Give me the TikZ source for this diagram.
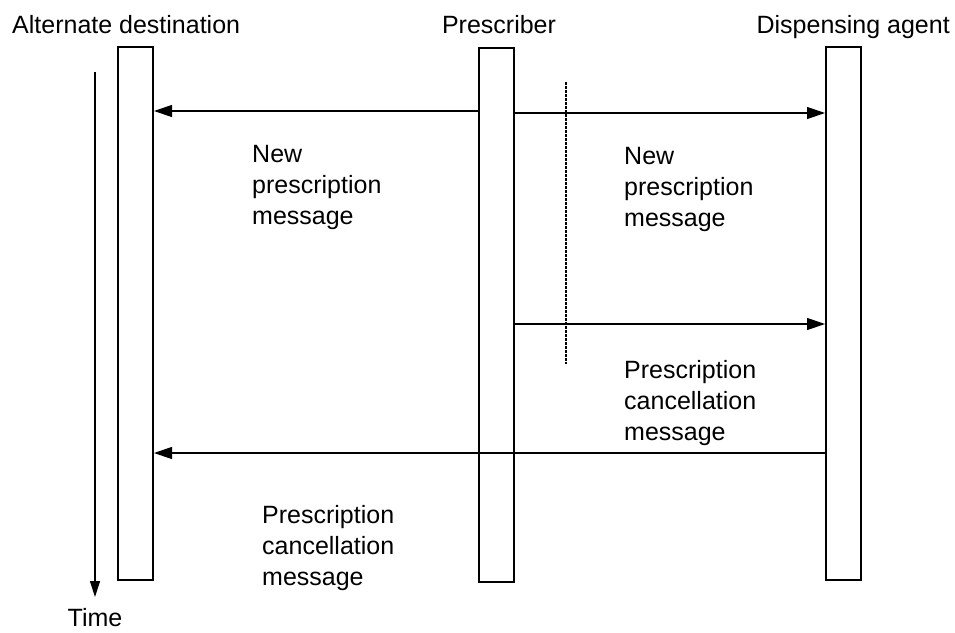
\documentclass[tikz,border=0pt]{standalone}
\usepackage{fontspec}
\setmainfont{Liberation Sans}
\usetikzlibrary{arrows.meta}
\begin{document}
\begin{tikzpicture}[x=1pt,y=-1pt,
  lifeline/.style={draw,line width=2pt,fill=white,minimum width=35pt,inner sep=0pt},
  msg/.style={line width=1.2pt,-{Triangle[length=18pt,width=12pt]}},
  label/.style={font=\fontsize{25}{31}\selectfont,inner sep=0pt},
  msgtext/.style={label,align=left,anchor=north west}]
\useasboundingbox (0,0) rectangle (955,632);

% lifelines
\node[lifeline,minimum height=533pt] (alt) at (135.5,313.5) {};
\node[lifeline,minimum height=534pt] (pres) at (496,315) {};
\node[lifeline,minimum height=533pt] (disp) at (843.5,313.5) {};

% headers
\node[label,anchor=base west] (althead) at (12,33) {Alternate destination};
\node[label,anchor=base] (preshead) at (499,33) {Prescriber};
\node[label,anchor=base east] (disphead) at (950,33) {Dispensing agent};

% time axis
\coordinate (tstart) at (95,72);
\coordinate (tend) at (95,597);
\draw[line width=1.2pt,-{Triangle[length=16pt,width=10pt]}] (tstart) -- (tend);
\node[label,anchor=base] (time) at (95,626) {Time};

% dotted marker
\coordinate (dtop) at (566,82);
\coordinate (dbot) at (566,364);
\draw[line width=2.6pt,dash pattern=on 2.5pt off 1.5pt] (dtop) -- (dbot);

% messages
\draw[msg] (pres.west |- 0,111) -- (alt.east |- 0,111);
\draw[msg] (pres.east |- 0,113) -- (disp.west |- 0,113);
\draw[msg] (pres.east |- 0,324) -- (disp.west |- 0,324);
\draw[msg] (disp.west |- 0,453) -- (alt.east |- 0,453);

% message texts
\node[msgtext] (m1) at (252,145) {New\\prescription\\message};
\node[msgtext] (m2) at (624,147) {New\\prescription\\message};
\node[msgtext] (m3) at (624,360) {Prescription\\cancellation\\message};
\node[msgtext] (m4) at (262,505) {Prescription\\cancellation\\message};
\end{tikzpicture}
\end{document}
